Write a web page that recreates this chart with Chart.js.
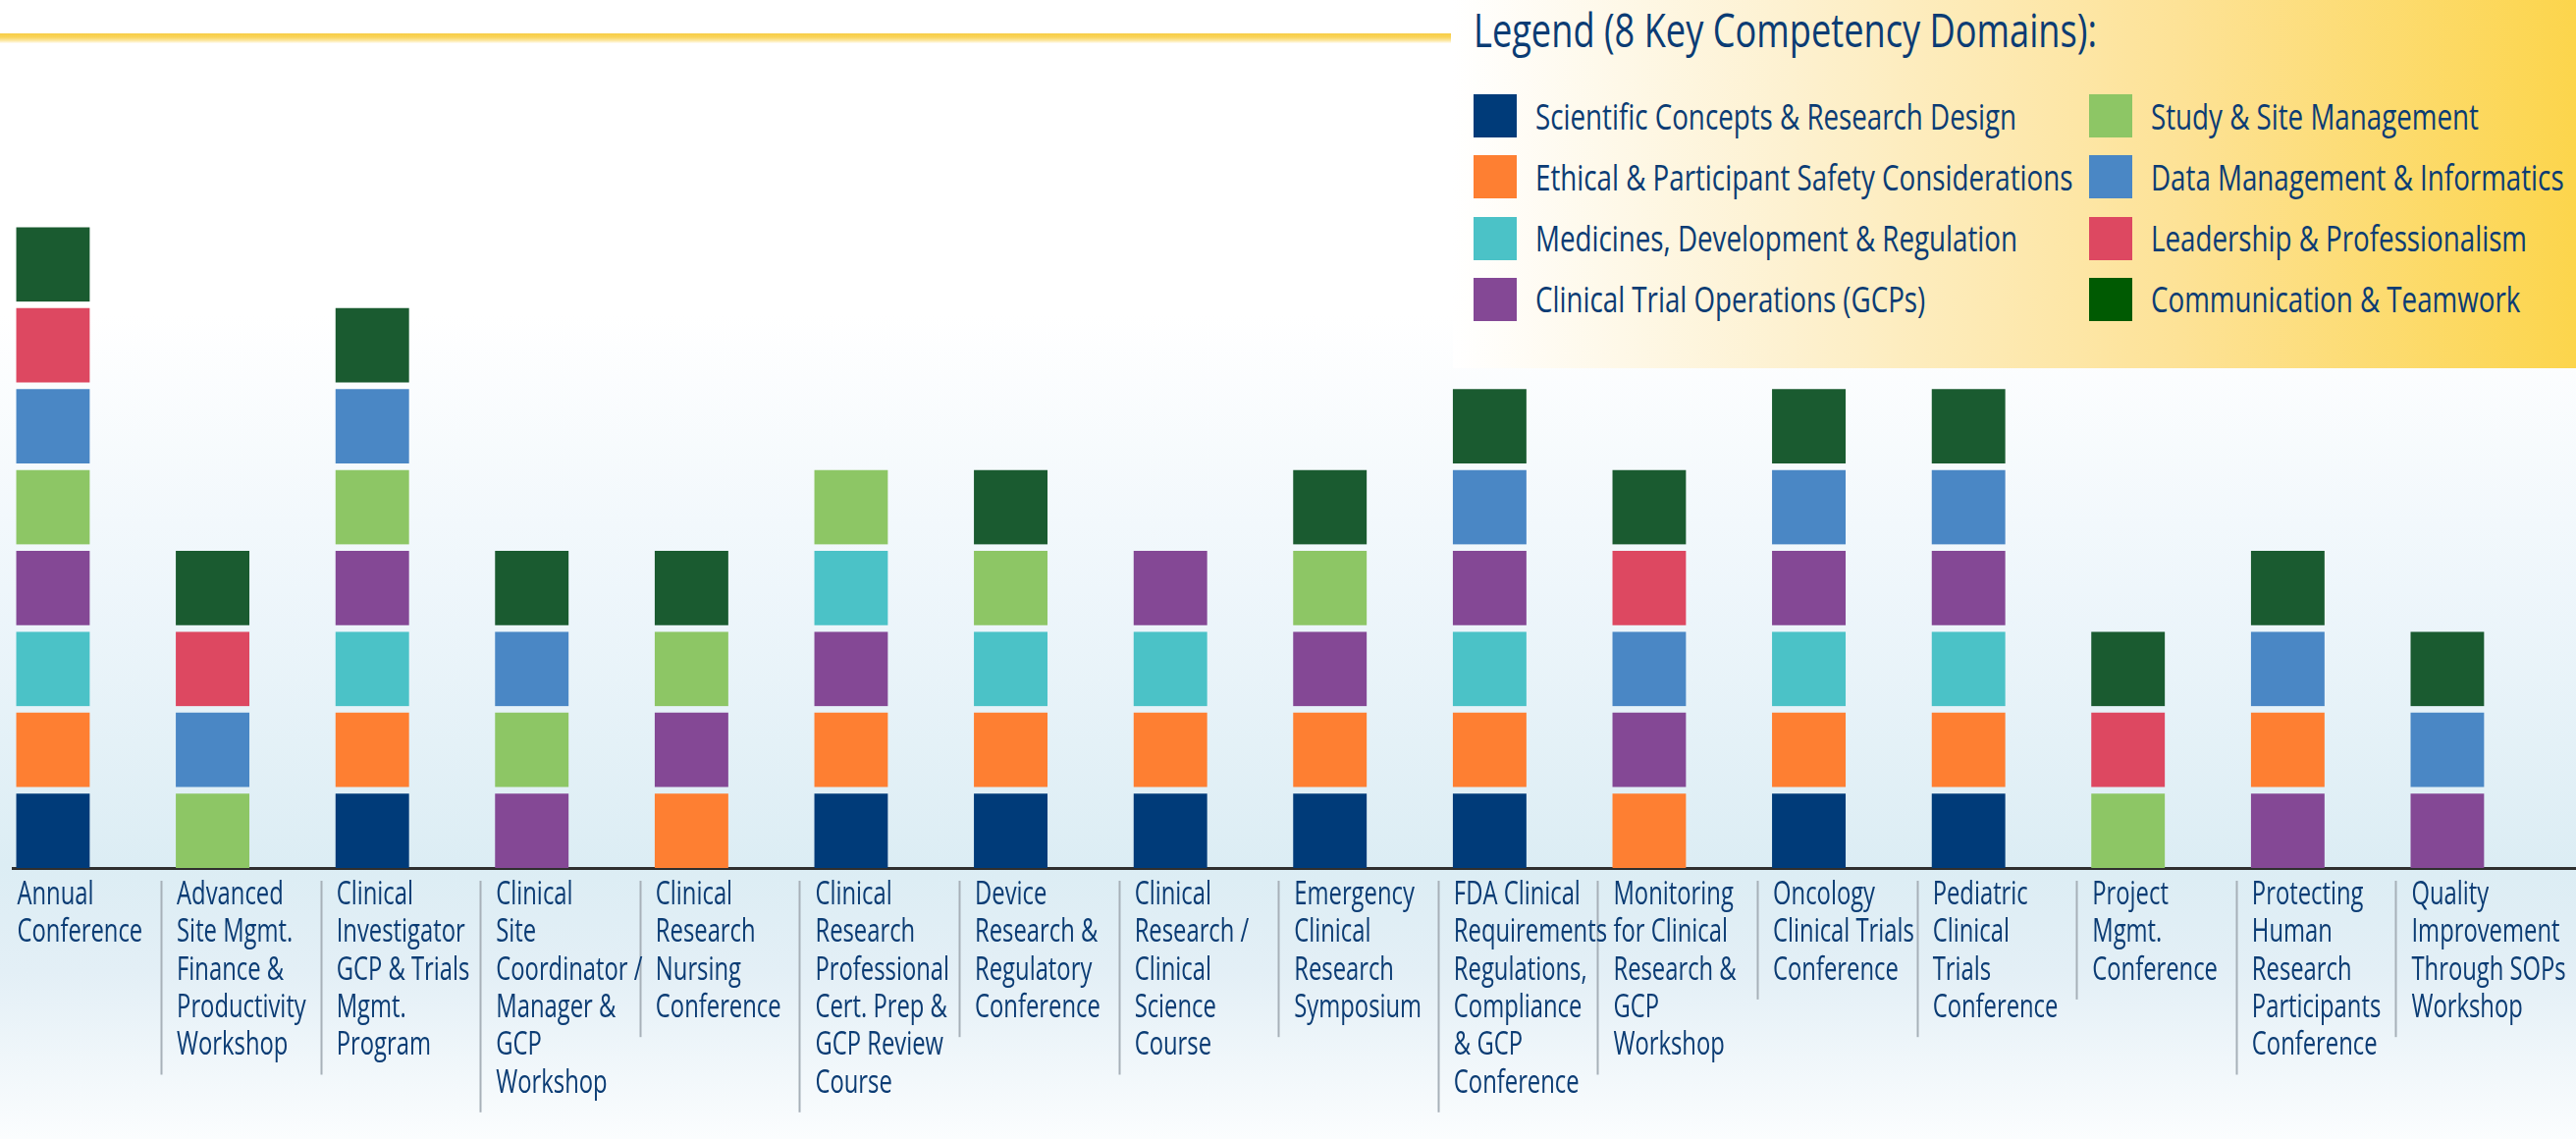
<!DOCTYPE html>
<html>
<head>
<meta charset="utf-8">
<script src="https://cdn.jsdelivr.net/npm/chart.js@4.4.1/dist/chart.umd.min.js"></script>
<style>
  html, body { margin: 0; padding: 0; }
  body {
    width: 2624px; height: 1160px; overflow: hidden; position: relative;
    font-family: "Open Sans", "Noto Sans", sans-serif;
    background: linear-gradient(to bottom, #ffffff 0px, #ffffff 320px, #eef6fb 600px, #dcedf4 880px, #e3eff6 990px, #fbfdfe 1160px);
  }
  #chart { position: absolute; left: 0; top: 0; }
  .rule {
    position: absolute; left: 0; top: 34px; width: 1478px; height: 10px;
    background: linear-gradient(to bottom, #f7cd45 0%, #f9d45c 40%, #fce9a8 75%, #fffdf6 100%);
  }
  #legend {
    position: absolute; left: 1480px; top: 0; width: 1144px; height: 375px;
    background: linear-gradient(to right, #ffffff 0%, #fdf1d0 30%, #fde296 65%, #fcd54c 100%);
    color: #0b3c74;
  }
  #legend .title { position: absolute; left: 21px; top: 6px; font-size: 48px; line-height: 48px; white-space: nowrap; transform-origin: left center; }
  #legend .item { position: absolute; display: flex; align-items: center; height: 44px; font-size: 36px; white-space: nowrap; }
  #legend .sw { width: 44px; height: 44px; margin-right: 19px; flex: none; }
  #legend .txt { display: inline-block; transform-origin: left center; }
</style>
</head>
<body>
<canvas id="chart" width="2624" height="1160"></canvas>
<div class="rule"></div>
<div id="legend"><div class="title">Legend (8 Key Competency Domains):</div></div>
<script>
  // 8 competency domains (legend order)
  const domains = [
    "Scientific Concepts & Research Design",
    "Ethical & Participant Safety Considerations",
    "Medicines, Development & Regulation",
    "Clinical Trial Operations (GCPs)",
    "Study & Site Management",
    "Data Management & Informatics",
    "Leadership & Professionalism",
    "Communication & Teamwork"
  ];

  const courses = [
    ["Annual", "Conference"],
    ["Advanced", "Site Mgmt.", "Finance &", "Productivity", "Workshop"],
    ["Clinical", "Investigator", "GCP & Trials", "Mgmt.", "Program"],
    ["Clinical", "Site", "Coordinator /", "Manager &", "GCP", "Workshop"],
    ["Clinical", "Research", "Nursing", "Conference"],
    ["Clinical", "Research", "Professional", "Cert. Prep &", "GCP Review", "Course"],
    ["Device", "Research &", "Regulatory", "Conference"],
    ["Clinical", "Research /", "Clinical", "Science", "Course"],
    ["Emergency", "Clinical", "Research", "Symposium"],
    ["FDA Clinical", "Requirements", "Regulations,", "Compliance", "& GCP", "Conference"],
    ["Monitoring", "for Clinical", "Research &", "GCP", "Workshop"],
    ["Oncology", "Clinical Trials", "Conference"],
    ["Pediatric", "Clinical", "Trials", "Conference"],
    ["Project", "Mgmt.", "Conference"],
    ["Protecting", "Human", "Research", "Participants", "Conference"],
    ["Quality", "Improvement", "Through SOPs", "Workshop"]
  ];

  // domains covered by each course, bottom block first (1 = first domain)
  const courseDomains = [
    [1, 2, 3, 4, 5, 6, 7, 8],
    [5, 6, 7, 8],
    [1, 2, 3, 4, 5, 6, 8],
    [4, 5, 6, 8],
    [2, 4, 5, 8],
    [1, 2, 4, 3, 5],
    [1, 2, 3, 5, 8],
    [1, 2, 3, 4],
    [1, 2, 4, 5, 8],
    [1, 2, 3, 4, 6, 8],
    [2, 4, 6, 7, 8],
    [1, 2, 3, 4, 6, 8],
    [1, 2, 3, 4, 6, 8],
    [5, 7, 8],
    [4, 2, 6, 8],
    [4, 6, 8]
  ];

  const barColors = ["#003b79", "#fe7f32", "#4bc2c7", "#844895", "#8dc665", "#4a87c5", "#dd4861", "#1a5b30"];
  const legendColors = ["#003b79", "#fe7f32", "#4bc2c7", "#844895", "#8dc665", "#4a87c5", "#dd4861", "#005a02"];
  const textColor = "#0b3c74";
  const fontFamily = '"Open Sans", "Noto Sans", sans-serif';

  // the original uses a condensed face; squeeze a normal one to the same widths
  const mctx = document.createElement("canvas").getContext("2d");
  function squeeze(text, size, target) {
    mctx.font = `${size}px ${fontFamily}`;
    return target / mctx.measureText(text).width;
  }
  const labelScale = squeeze("Investigator", 32, 131);
  const legendScale = squeeze("Scientific Concepts & Research Design", 36, 490);
  const titleScale = squeeze("Legend (8 Key Competency Domains):", 48, 635);

  // legend
  const legend = document.getElementById("legend");
  legend.querySelector(".title").style.transform = `scaleX(${titleScale})`;
  domains.forEach((d, i) => {
    const col = Math.floor(i / 4), row = i % 4;
    const el = document.createElement("div");
    el.className = "item";
    el.style.left = (col ? 648 : 21) + "px";
    el.style.top = (96 + row * 62.3) + "px";
    const sw = document.createElement("span");
    sw.className = "sw";
    sw.style.background = legendColors[i];
    const t = document.createElement("span");
    t.className = "txt";
    t.textContent = d;
    t.style.transform = `scaleX(${legendScale})`;
    el.appendChild(sw);
    el.appendChild(t);
    legend.appendChild(el);
  });

  // one dataset per stack level, each block coloured by its domain
  const maxLevels = Math.max(...courseDomains.map(c => c.length));
  const datasets = [];
  for (let k = 0; k < maxLevels; k++) {
    datasets.push({
      data: courseDomains.map(c => (c.length > k ? 1 : null)),
      backgroundColor: courseDomains.map(c => (c.length > k ? barColors[c[k] - 1] : "transparent")),
      borderColor: "rgba(0,0,0,0)",
      borderWidth: { top: 7, bottom: 0, left: 0, right: 0 },
      borderSkipped: false,
      barThickness: 75
    });
  }

  const axisY = 884;
  const unit = 82.4;
  const lineH = 38.3;
  const barHalf = 37.5;

  // course names (multi-line, left aligned at the bar edge) and thin separators
  const courseLabels = {
    id: "courseLabels",
    afterDraw(chart) {
      const c = chart.ctx;
      const xs = chart.scales.x;
      const bottom = chart.chartArea.bottom;
      c.save();
      c.strokeStyle = "#a7b0b8";
      c.lineWidth = 2;
      for (let i = 1; i < courses.length; i++) {
        const x = Math.round(xs.getPixelForValue(i) - barHalf - 15) + 0.5;
        c.beginPath();
        c.moveTo(x, bottom + 13);
        c.lineTo(x, bottom + 13 + courses[i].length * lineH + 6);
        c.stroke();
      }
      c.fillStyle = textColor;
      c.font = `32px ${fontFamily}`;
      c.textAlign = "left";
      c.textBaseline = "alphabetic";
      courses.forEach((lines, i) => {
        const x = xs.getPixelForValue(i) - barHalf + 1;
        lines.forEach((ln, j) => {
          c.save();
          c.translate(x, bottom + 37 + j * lineH);
          c.scale(labelScale, 1);
          c.fillText(ln, 0, 0);
          c.restore();
        });
      });
      c.restore();
    }
  };

  new Chart(document.getElementById("chart"), {
    type: "bar",
    data: { labels: courses.map((c, i) => i), datasets },
    options: {
      responsive: false,
      animation: false,
      devicePixelRatio: 1,
      layout: { padding: { left: 13, right: 0, top: axisY - 10 * unit, bottom: 0 } },
      plugins: { legend: { display: false }, tooltip: { enabled: false } },
      scales: {
        x: {
          type: "linear",
          stacked: true,
          min: -0.252,
          max: 15.806,
          offset: false,
          grid: { display: false },
          border: { display: true, color: "#2f2f2f", width: 3 },
          afterFit: s => { s.height = 1160 - axisY; },
          ticks: { display: false, stepSize: 1 }
        },
        y: { display: false, stacked: true, min: 0, max: 10 }
      }
    },
    plugins: [courseLabels]
  });
</script>
</body>
</html>
